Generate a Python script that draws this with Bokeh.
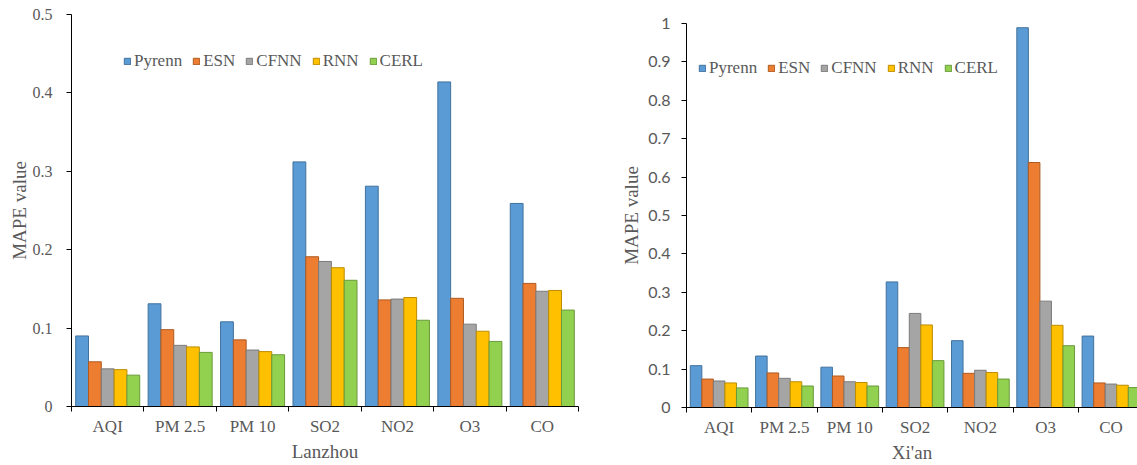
from bokeh.plotting import figure
from bokeh.layouts import row
from bokeh.models import Range1d, FixedTicker, ColumnDataSource
from bokeh.embed import file_html
from bokeh.resources import INLINE

categories = ["AQI", "PM 2.5", "PM 10", "SO2", "NO2", "O3", "CO"]
models = ["Pyrenn", "ESN", "CFNN", "RNN", "CERL"]

# Lanzhou MAPE values
lz_pyrenn = [0.090, 0.131, 0.108, 0.312, 0.281, 0.414, 0.259]
lz_esn    = [0.057, 0.098, 0.085, 0.191, 0.136, 0.138, 0.157]
lz_cfnn   = [0.048, 0.078, 0.072, 0.185, 0.137, 0.105, 0.147]
lz_rnn    = [0.047, 0.076, 0.070, 0.177, 0.139, 0.096, 0.148]
lz_cerl   = [0.040, 0.069, 0.066, 0.161, 0.110, 0.083, 0.123]

# Xi'an MAPE values
xa_pyrenn = [0.109, 0.134, 0.105, 0.327, 0.174, 0.989, 0.186]
xa_esn    = [0.074, 0.090, 0.082, 0.156, 0.089, 0.638, 0.064]
xa_cfnn   = [0.069, 0.076, 0.067, 0.245, 0.097, 0.277, 0.061]
xa_rnn    = [0.064, 0.067, 0.065, 0.215, 0.091, 0.214, 0.058]
xa_cerl   = [0.051, 0.056, 0.056, 0.122, 0.074, 0.161, 0.052]

lz_ticks = [0, 0.1, 0.2, 0.3, 0.4, 0.5]
lz_tick_labels = ["0", "0.1", "0.2", "0.3", "0.4", "0.5"]
xa_ticks = [0, 0.1, 0.2, 0.3, 0.4, 0.5, 0.6, 0.7, 0.8, 0.9, 1]
xa_tick_labels = ["0", "0.1", "0.2", "0.3", "0.4", "0.5", "0.6", "0.7", "0.8", "0.9", "1"]

colors = ["#5B9BD5", "#ED7D31", "#A5A5A5", "#FFC000", "#92D050"]
borders = ["#41719C", "#AE5A21", "#7B7B7B", "#BC8C00", "#6A9A3A"]

GREY = "#595959"
SERIF = "Liberation Serif"


def make_chart(series, ticks, tick_labels, ymax, xmax, width, height,
               mb_left, mb_right, mb_top, mb_bottom, title, ytick_font,
               ytick_size, ytick_standoff, ylabel_standoff, leg_loc):
    p = figure(width=width, height=height, output_backend="svg",
               toolbar_location=None, x_range=Range1d(0, xmax),
               y_range=Range1d(0, ymax), min_border_left=mb_left,
               min_border_right=mb_right, min_border_top=mb_top,
               min_border_bottom=mb_bottom, frame_align=False)
    p.outline_line_color = None
    p.xgrid.grid_line_color = None
    p.ygrid.grid_line_color = None

    bw = 0.1768
    n = len(categories)
    for i, (name, vals) in enumerate(zip(models, series)):
        xs = [j + 0.5 + (i - 2) * bw for j in range(n)]
        src = ColumnDataSource(dict(x=xs, top=vals))
        p.vbar(x="x", top="top", width=bw, bottom=0, source=src,
               fill_color=colors[i], line_color=borders[i], line_width=1,
               legend_label=name)

    # x axis
    xa = p.xaxis[0]
    xa.ticker = FixedTicker(ticks=[j + 0.5 for j in range(n)],
                            minor_ticks=list(range(n + 1)))
    xa.major_label_overrides = {j + 0.5: c for j, c in enumerate(categories)}
    xa.major_tick_line_color = None
    xa.major_tick_out = 0
    xa.major_tick_in = 0
    xa.minor_tick_line_color = "black"
    xa.minor_tick_out = 5
    xa.minor_tick_in = 0
    xa.axis_line_color = "black"
    xa.major_label_text_font = SERIF
    xa.major_label_text_font_size = "17px"
    xa.major_label_text_color = GREY
    xa.major_label_standoff = 5
    xa.axis_label = title
    xa.axis_label_text_font = SERIF
    xa.axis_label_text_font_size = "19px"
    xa.axis_label_text_font_style = "normal"
    xa.axis_label_text_color = GREY
    xa.axis_label_standoff = 2

    # y axis
    ya = p.yaxis[0]
    ya.ticker = FixedTicker(ticks=ticks, minor_ticks=[])
    ya.major_label_overrides = {t: l for t, l in zip(ticks, tick_labels)}
    ya.major_tick_out = 5
    ya.major_tick_in = 0
    ya.major_tick_line_color = "black"
    ya.minor_tick_line_color = None
    ya.axis_line_color = "black"
    ya.major_label_text_font = ytick_font
    ya.major_label_text_font_size = ytick_size
    ya.major_label_text_color = GREY
    ya.major_label_standoff = ytick_standoff
    ya.axis_label = "MAPE value"
    ya.axis_label_text_font = SERIF
    ya.axis_label_text_font_size = "19px"
    ya.axis_label_text_font_style = "normal"
    ya.axis_label_text_color = GREY
    ya.axis_label_standoff = ylabel_standoff

    lg = p.legend[0]
    lg.orientation = "horizontal"
    lg.location = leg_loc
    lg.padding = 0
    lg.margin = 0
    lg.spacing = 10
    lg.label_standoff = 3
    lg.glyph_width = 8
    lg.glyph_height = 8
    lg.label_height = 20
    lg.border_line_color = None
    lg.background_fill_alpha = 0
    lg.label_text_font = SERIF
    lg.label_text_font_size = "17px"
    lg.label_text_color = GREY
    return p


left = make_chart([lz_pyrenn, lz_esn, lz_cfnn, lz_rnn, lz_cerl],
                  lz_ticks, lz_tick_labels, 0.5, 7, 580, 465,
                  71, 2, 14, 59, "Lanzhou", SERIF, "16px", 14, 0, (52, 335))
right = make_chart([xa_pyrenn, xa_esn, xa_cfnn, xa_rnn, xa_cerl],
                   xa_ticks, xa_tick_labels, 1.0, 6.906, 557, 465,
                   106, 0, 23, 58, "Xi'an", "Lato", "16px", 11, 3, (12, 329))

layout = row(left, right)
open("out.html", "w").write(file_html(layout, INLINE))
